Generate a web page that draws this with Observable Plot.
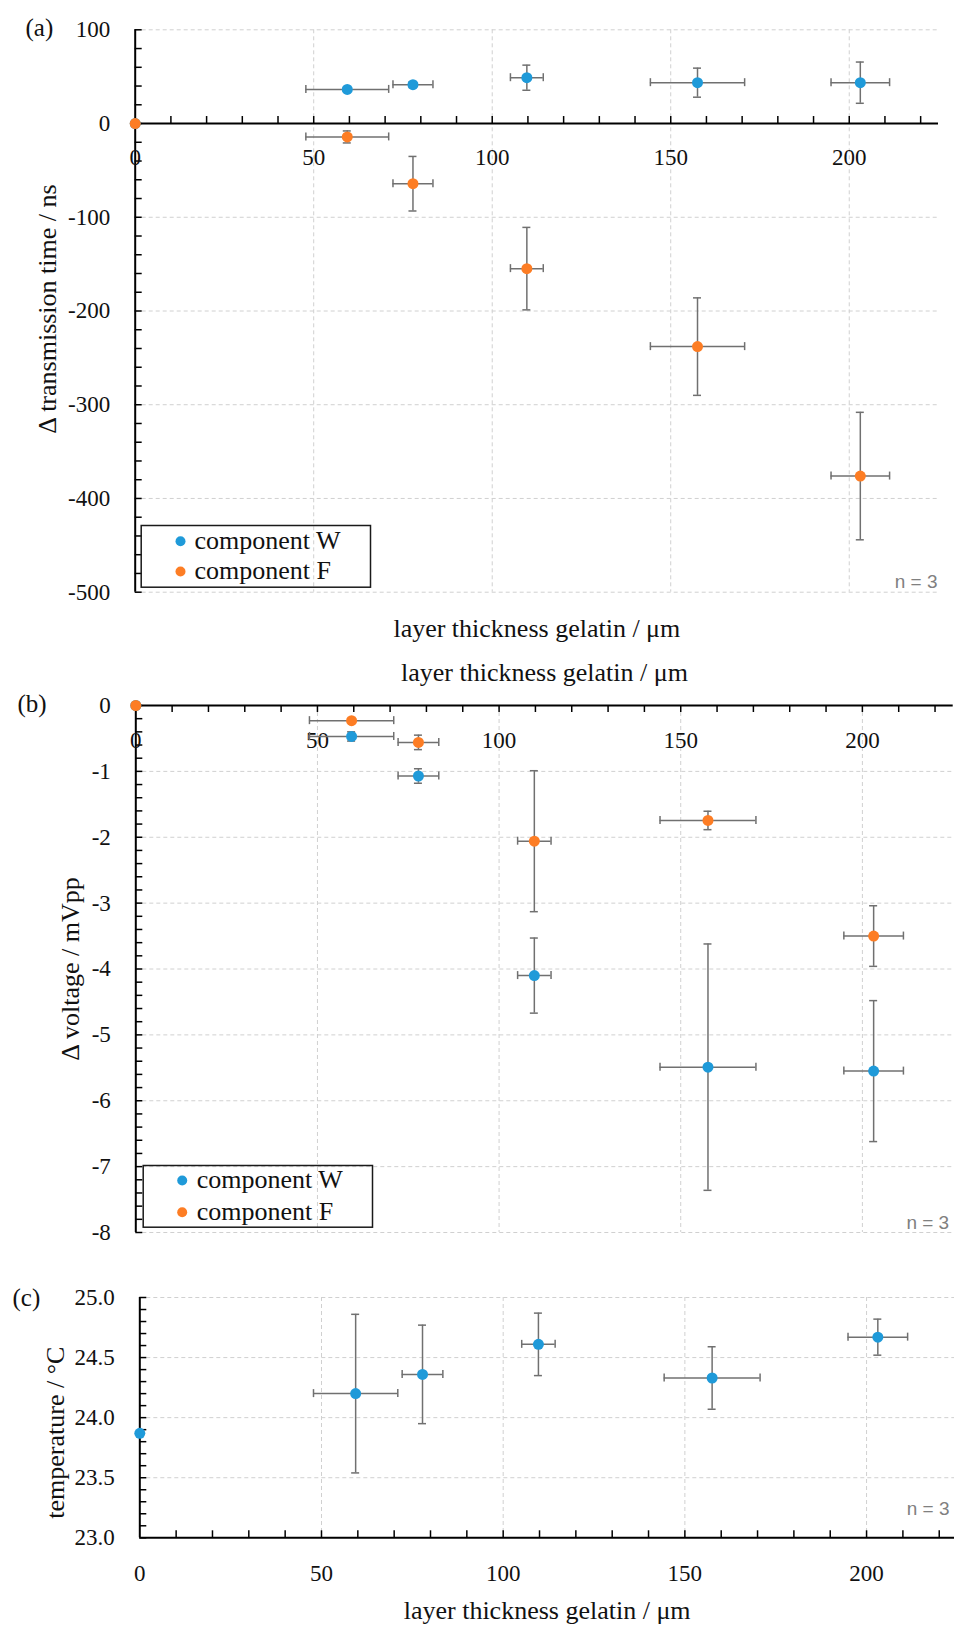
<!DOCTYPE html>
<html><head><meta charset="utf-8">
<script src="https://cdn.jsdelivr.net/npm/d3@7"></script>
<script src="https://cdn.jsdelivr.net/npm/@observablehq/plot@0.6"></script>
<style>
body{margin:0;background:#fff;}
#wrap{position:relative;width:954px;height:1627px;overflow:hidden;}
#wrap svg{position:absolute;left:0;}
</style></head><body><div id="wrap"></div>
<script>
// ---------- data ----------
const thickness    = [0, 59.4, 77.8, 109.7, 157.5, 203.1];
const thicknessErr = [0, 11.6, 5.6, 4.6, 13.2, 8.2];

const timeW    = [0, 36.4, 41.4, 48.9, 43.6, 43.6];
const timeWErr = [0, 2, 3, 13.4, 15.5, 22];
const timeF    = [0, -14.3, -64.2, -154.8, -238, -376.1];
const timeFErr = [0, 6.4, 29.1, 44, 52, 68];

const voltW    = [0, -0.47, -1.07, -4.10, -5.49, -5.55];
const voltWErr = [0, 0.07, 0.11, 0.57, 1.87, 1.07];
const voltF    = [0, -0.23, -0.56, -2.06, -1.745, -3.50];
const voltFErr = [0, 0.03, 0.11, 1.07, 0.14, 0.46];

const temp    = [23.87, 24.20, 24.36, 24.61, 24.33, 24.67];
const tempErr = [0, 0.66, 0.41, 0.26, 0.26, 0.15];

const seriesNames = ["component W", "component F"];
const colors = ["#1f9ad9", "#fd7d24"];

const xTicks = [0, 50, 100, 150, 200];
const xGrid = [50, 100, 150, 200];
const xMinor = d3.range(10, 221, 10);

const yTicksA = [100, 0, -100, -200, -300, -400, -500];
const yGridA = [100, -100, -200, -300, -400, -500];
const yMinorA = d3.range(-500, 100.1, 20);

const yTicksB = [0, -1, -2, -3, -4, -5, -6, -7, -8];
const yGridB = [-1, -2, -3, -4, -5, -6, -7, -8];
const yMinorB = d3.range(0, 41).map(i => +(-8 + i * 0.2).toFixed(1));

const yTicksC = [25.0, 24.5, 24.0, 23.5, 23.0];
const yGridC = [25.0, 24.5, 24.0, 23.5];
const yMinorC = d3.range(0, 21).map(i => +(23 + i * 0.1).toFixed(1));

const xTitle = "layer thickness gelatin / μm";
const nLabel = "n = 3";

// ---------- style ----------
const W = 954;
const serif = "'Palatino Linotype', Palatino, 'Book Antiqua', 'Liberation Serif', serif";
const sans = "'Liberation Sans', Arial, sans-serif";
const errColor = "#707070";
const gridColor = "#d0d0d0";
const dash = "4,3";
const tickFont = {fontFamily: serif, fontSize: 23, fill: "#111"};
const titleFont = {fontFamily: serif, fontSize: 26, fill: "#111"};

function rows(ys, yerrs) {
  return thickness.map((x, i) => ({x, xe: thicknessErr[i], y: ys[i], ye: yerrs[i]}));
}

function seriesMarks(data, color) {
  const xb = data.filter(d => d.xe > 0);
  const yb = data.filter(d => d.ye > 0);
  const st = {stroke: errColor, strokeWidth: 1.5};
  return [
    Plot.ruleY(xb, {y: "y", x1: d => d.x - d.xe, x2: d => d.x + d.xe, ...st}),
    Plot.ruleX(xb.flatMap(d => [{x: d.x - d.xe, y: d.y}, {x: d.x + d.xe, y: d.y}]),
      {x: "x", y1: "y", y2: "y", insetTop: -4, insetBottom: -4, ...st}),
    Plot.ruleX(yb, {x: "x", y1: d => d.y - d.ye, y2: d => d.y + d.ye, ...st}),
    Plot.ruleY(yb.flatMap(d => [{x: d.x, y: d.y - d.ye}, {x: d.x, y: d.y + d.ye}]),
      {y: "y", x1: "x", x2: "x", insetLeft: -4, insetRight: -4, ...st}),
    Plot.dot(data, {x: "x", y: "y", r: 5.5, fill: color})
  ];
}

function legendMarks(box, dotDx, textDx, dy1, dy2) {
  return [
    Plot.frame({stroke: "#1a1a1a", strokeWidth: 1.5, ...box}),
    ...seriesNames.map((name, i) => [
      Plot.dot([name], {frameAnchor: "bottom-left", dx: dotDx, dy: i === 0 ? dy1 : dy2, r: 5, fill: colors[i]}),
      Plot.text([name], {frameAnchor: "bottom-left", dx: textDx, dy: (i === 0 ? dy1 : dy2) - 1,
        textAnchor: "start", lineAnchor: "middle", ...titleFont})
    ]).flat()
  ];
}

const wrap = document.getElementById("wrap");
function place(svg, top) { svg.style.top = top + "px"; wrap.appendChild(svg); }

// ---------- panel (a) ----------
const plotA = Plot.plot({
  width: W, height: 650,
  marginLeft: 134.7, marginRight: 16, marginTop: 29.3, marginBottom: 58.3,
  x: {domain: [0, 225], axis: null},
  y: {domain: [-500, 100], axis: null},
  style: {fontFamily: serif, background: "transparent", overflow: "visible", color: "#111"},
  marks: [
    Plot.ruleY(yGridA, {stroke: gridColor, strokeDasharray: dash}),
    Plot.ruleX(xGrid, {stroke: gridColor, strokeDasharray: dash}),
    Plot.ruleX([0], {stroke: "black", strokeWidth: 2}),
    Plot.ruleY([0], {stroke: "black", strokeWidth: 2}),
    Plot.ruleY(yMinorA, {y: d => d, x1: 0, x2: 0, insetRight: -7, stroke: "black", strokeWidth: 1.5}),
    Plot.ruleX(xMinor, {x: d => d, y1: 0, y2: 0, insetTop: -7, stroke: "black", strokeWidth: 1.5}),
    Plot.text(yTicksA, {x: 0, y: d => d, text: d => String(d), dx: -25, textAnchor: "end", ...tickFont}),
    Plot.text(xTicks, {x: d => d, y: 0, text: d => String(d), dy: 34, ...tickFont}),
    ...seriesMarks(rows(timeW, timeWErr), colors[0]),
    ...seriesMarks(rows(timeF, timeFErr), colors[1]),
    ...legendMarks({insetLeft: 6, insetRight: 568, insetTop: 495.7, insetBottom: 5}, 45.3, 59.3, -51, -20.7),
    Plot.text([nLabel], {frameAnchor: "bottom-right", dx: -1, dy: -10, textAnchor: "end", lineAnchor: "middle",
      fontFamily: sans, fontSize: 19, fill: "#808080"}),
    Plot.text(["Δ transmission time / ns"], {frameAnchor: "left", dx: 47 - 134.7, dy: -2, rotate: -90,
      textAnchor: "middle", lineAnchor: "middle", ...titleFont}),
    Plot.text([xTitle], {frameAnchor: "bottom", dy: 36.3, textAnchor: "middle", lineAnchor: "middle", ...titleFont}),
    Plot.text(["(a)"], {frameAnchor: "top-left", dx: 25 - 134.7, dy: -2.3, textAnchor: "start", lineAnchor: "middle", ...titleFont, fontSize: 25})
  ]
});
place(plotA, 0);

// ---------- panel (b) ----------
const plotB = Plot.plot({
  width: W, height: 610,
  marginLeft: 135.3, marginRight: 1.3, marginTop: 55, marginBottom: 28,
  x: {domain: [0, 225], axis: null},
  y: {domain: [-8, 0], axis: null},
  style: {fontFamily: serif, background: "transparent", overflow: "visible", color: "#111"},
  marks: [
    Plot.ruleY(yGridB, {stroke: gridColor, strokeDasharray: dash}),
    Plot.ruleX(xGrid, {stroke: gridColor, strokeDasharray: dash}),
    Plot.ruleX([0], {stroke: "black", strokeWidth: 2}),
    Plot.ruleY([0], {stroke: "black", strokeWidth: 2}),
    Plot.ruleY(yMinorB, {y: d => d, x1: 0, x2: 0, insetRight: -7, stroke: "black", strokeWidth: 1.5}),
    Plot.ruleX(xMinor, {x: d => d, y1: 0, y2: 0, insetBottom: -7, stroke: "black", strokeWidth: 1.5}),
    Plot.text(yTicksB, {x: 0, y: d => d, text: d => String(d), dx: -25, textAnchor: "end", ...tickFont}),
    Plot.text(xTicks, {x: d => d, y: 0, text: d => String(d), dy: 35, ...tickFont}),
    ...seriesMarks(rows(voltW, voltWErr), colors[0]),
    ...seriesMarks(rows(voltF, voltFErr), colors[1]),
    ...legendMarks({insetLeft: 7.4, insetRight: 580.7, insetTop: 460, insetBottom: 5.3}, 46.4, 61, -52, -20.3),
    Plot.text([nLabel], {frameAnchor: "bottom-right", dx: -4, dy: -10, textAnchor: "end", lineAnchor: "middle",
      fontFamily: sans, fontSize: 19, fill: "#808080"}),
    Plot.text(["Δ voltage / mVpp"], {frameAnchor: "left", dx: 70 - 135.3, rotate: -90,
      textAnchor: "middle", lineAnchor: "middle", ...titleFont}),
    Plot.text([xTitle], {frameAnchor: "top", dy: -33.3, textAnchor: "middle", lineAnchor: "middle", ...titleFont}),
    Plot.text(["(b)"], {frameAnchor: "top-left", dx: 17 - 135.3, dy: -2, textAnchor: "start", lineAnchor: "middle", ...titleFont, fontSize: 25})
  ]
});
place(plotB, 650);

// ---------- panel (c) ----------
const plotC = Plot.plot({
  width: W, height: 367,
  marginLeft: 139.3, marginRight: 0, marginTop: 37, marginBottom: 89.7,
  x: {domain: [0, 224.2], axis: null},
  y: {domain: [23, 25], axis: null},
  style: {fontFamily: serif, background: "transparent", overflow: "visible", color: "#111"},
  marks: [
    Plot.ruleY(yGridC, {stroke: gridColor, strokeDasharray: dash}),
    Plot.ruleX(xGrid, {stroke: gridColor, strokeDasharray: dash}),
    Plot.ruleX([0], {stroke: "black", strokeWidth: 2}),
    Plot.ruleY([23], {stroke: "black", strokeWidth: 2}),
    Plot.ruleY(yMinorC, {y: d => d, x1: 0, x2: 0, insetRight: -7, stroke: "black", strokeWidth: 1.5}),
    Plot.ruleX(xMinor, {x: d => d, y1: 23, y2: 23, insetTop: -7, stroke: "black", strokeWidth: 1.5}),
    Plot.text(yTicksC, {x: 0, y: d => d, text: d => d.toFixed(1), dx: -25, textAnchor: "end", ...tickFont}),
    Plot.text(xTicks, {x: d => d, y: 23, text: d => String(d), dy: 36, ...tickFont}),
    ...seriesMarks(rows(temp, tempErr), colors[0]),
    Plot.text([nLabel], {frameAnchor: "bottom-right", dx: -5, dy: -29, textAnchor: "end", lineAnchor: "middle",
      fontFamily: sans, fontSize: 19, fill: "#808080"}),
    Plot.text(["temperature / °C"], {frameAnchor: "left", dx: 55 - 139.3, dy: 15, rotate: -90,
      textAnchor: "middle", lineAnchor: "middle", ...titleFont}),
    Plot.text([xTitle], {frameAnchor: "bottom", dy: 72.7, textAnchor: "middle", lineAnchor: "middle", ...titleFont}),
    Plot.text(["(c)"], {frameAnchor: "top-left", dx: 12 - 139.3, dy: 0, textAnchor: "start", lineAnchor: "middle", ...titleFont, fontSize: 25})
  ]
});
place(plotC, 1260);
</script></body></html>
